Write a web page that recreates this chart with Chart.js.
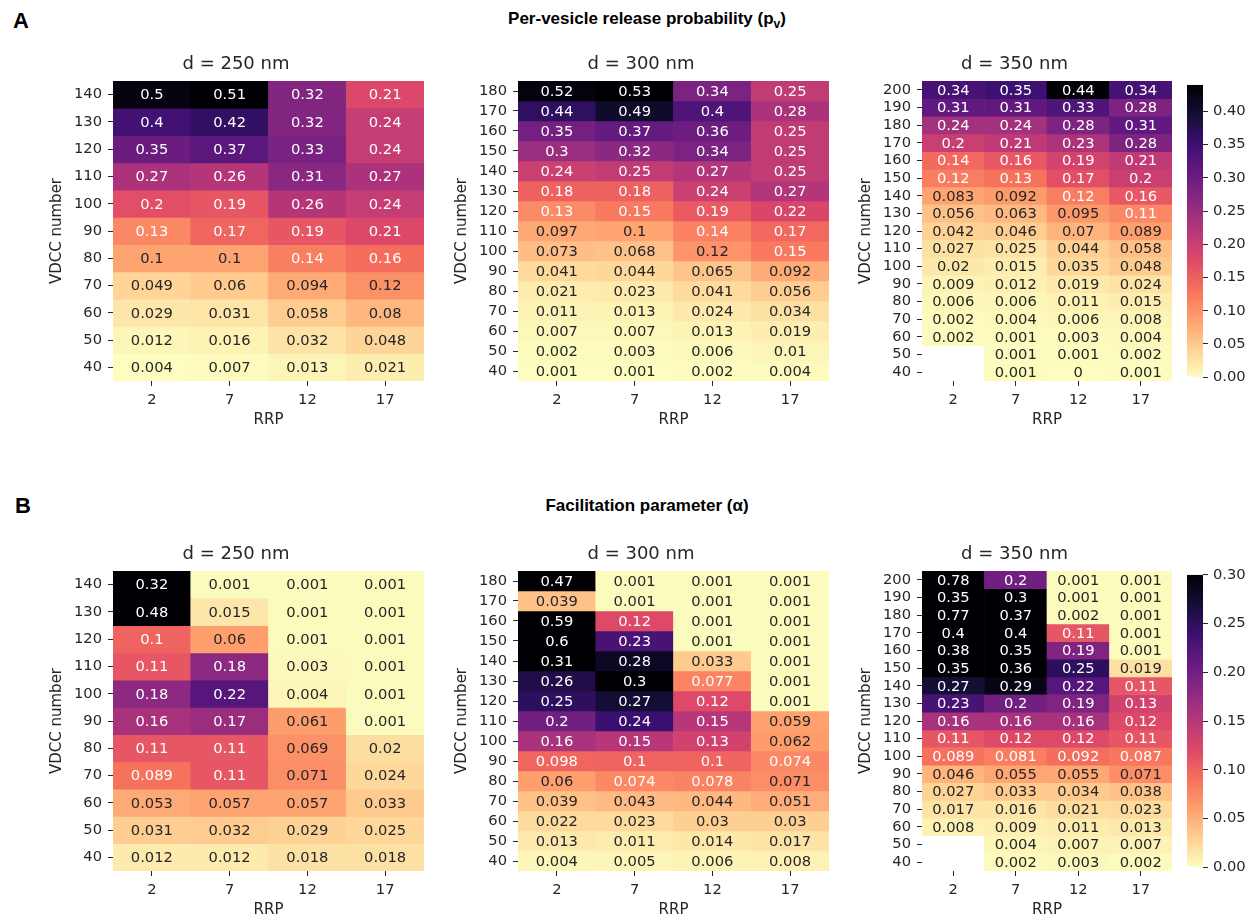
<!DOCTYPE html>
<html>
<head>
<meta charset="utf-8">
<script src="https://cdn.jsdelivr.net/npm/chart.js@4.4.0/dist/chart.umd.min.js"></script>
<style>
html,body{margin:0;padding:0;background:#fff;}
#fig{position:relative;width:1255px;height:920px;overflow:hidden;background:#fff;}
#fig canvas{position:absolute;}
.lbl{position:absolute;font-family:"Liberation Sans",Arial,sans-serif;font-weight:bold;color:#000;white-space:nowrap;}
.sup{position:absolute;left:347px;width:600px;text-align:center;font-family:"Liberation Sans",Arial,sans-serif;font-weight:bold;font-size:17px;line-height:20px;color:#000;white-space:nowrap;}
.sup sub{font-size:12px;vertical-align:-4px;line-height:0;}
</style>
</head>
<body>
<div id="fig">
  <div class="lbl" style="left:13px;top:8px;font-size:22px;line-height:26px;">A</div>
  <div class="lbl" style="left:15px;top:493px;font-size:22px;line-height:26px;">B</div>
  <div class="sup" style="top:9px;">Per-vesicle release probability (p<sub>v</sub>)</div>
  <div class="sup" style="top:496px;">Facilitation parameter (α)</div>
</div>
<script>
// ---------------- DATA ----------------
const rrp = ['2', '7', '12', '17'];
const vdcc250 = [140, 130, 120, 110, 100, 90, 80, 70, 60, 50, 40];
const vdcc300 = [180, 170, 160, 150, 140, 130, 120, 110, 100, 90, 80, 70, 60, 50, 40];
const vdcc350 = [200, 190, 180, 170, 160, 150, 140, 130, 120, 110, 100, 90, 80, 70, 60, 50, 40];

// Per-vesicle release probability (rows top to bottom, columns RRP 2,7,12,17)
const pv250 = [
  [0.5, 0.51, 0.32, 0.21],
  [0.4, 0.42, 0.32, 0.24],
  [0.35, 0.37, 0.33, 0.24],
  [0.27, 0.26, 0.31, 0.27],
  [0.2, 0.19, 0.26, 0.24],
  [0.13, 0.17, 0.19, 0.21],
  [0.1, 0.1, 0.14, 0.16],
  [0.049, 0.06, 0.094, 0.12],
  [0.029, 0.031, 0.058, 0.08],
  [0.012, 0.016, 0.032, 0.048],
  [0.004, 0.007, 0.013, 0.021]
];
const pv300 = [
  [0.52, 0.53, 0.34, 0.25],
  [0.44, 0.49, 0.4, 0.28],
  [0.35, 0.37, 0.36, 0.25],
  [0.3, 0.32, 0.34, 0.25],
  [0.24, 0.25, 0.27, 0.25],
  [0.18, 0.18, 0.24, 0.27],
  [0.13, 0.15, 0.19, 0.22],
  [0.097, 0.1, 0.14, 0.17],
  [0.073, 0.068, 0.12, 0.15],
  [0.041, 0.044, 0.065, 0.092],
  [0.021, 0.023, 0.041, 0.056],
  [0.011, 0.013, 0.024, 0.034],
  [0.007, 0.007, 0.013, 0.019],
  [0.002, 0.003, 0.006, 0.01],
  [0.001, 0.001, 0.002, 0.004]
];
const pv350 = [
  [0.34, 0.35, 0.44, 0.34],
  [0.31, 0.31, 0.33, 0.28],
  [0.24, 0.24, 0.28, 0.31],
  [0.2, 0.21, 0.23, 0.28],
  [0.14, 0.16, 0.19, 0.21],
  [0.12, 0.13, 0.17, 0.2],
  [0.083, 0.092, 0.12, 0.16],
  [0.056, 0.063, 0.095, 0.11],
  [0.042, 0.046, 0.07, 0.089],
  [0.027, 0.025, 0.044, 0.058],
  [0.02, 0.015, 0.035, 0.048],
  [0.009, 0.012, 0.019, 0.024],
  [0.006, 0.006, 0.011, 0.015],
  [0.002, 0.004, 0.006, 0.008],
  [0.002, 0.001, 0.003, 0.004],
  [null, 0.001, 0.001, 0.002],
  [null, 0.001, 0, 0.001]
];

// Facilitation parameter
const a250 = [
  [0.32, 0.001, 0.001, 0.001],
  [0.48, 0.015, 0.001, 0.001],
  [0.1, 0.06, 0.001, 0.001],
  [0.11, 0.18, 0.003, 0.001],
  [0.18, 0.22, 0.004, 0.001],
  [0.16, 0.17, 0.061, 0.001],
  [0.11, 0.11, 0.069, 0.02],
  [0.089, 0.11, 0.071, 0.024],
  [0.053, 0.057, 0.057, 0.033],
  [0.031, 0.032, 0.029, 0.025],
  [0.012, 0.012, 0.018, 0.018]
];
const a300 = [
  [0.47, 0.001, 0.001, 0.001],
  [0.039, 0.001, 0.001, 0.001],
  [0.59, 0.12, 0.001, 0.001],
  [0.6, 0.23, 0.001, 0.001],
  [0.31, 0.28, 0.033, 0.001],
  [0.26, 0.3, 0.077, 0.001],
  [0.25, 0.27, 0.12, 0.001],
  [0.2, 0.24, 0.15, 0.059],
  [0.16, 0.15, 0.13, 0.062],
  [0.098, 0.1, 0.1, 0.074],
  [0.06, 0.074, 0.078, 0.071],
  [0.039, 0.043, 0.044, 0.051],
  [0.022, 0.023, 0.03, 0.03],
  [0.013, 0.011, 0.014, 0.017],
  [0.004, 0.005, 0.006, 0.008]
];
const a350 = [
  [0.78, 0.2, 0.001, 0.001],
  [0.35, 0.3, 0.001, 0.001],
  [0.77, 0.37, 0.002, 0.001],
  [0.4, 0.4, 0.11, 0.001],
  [0.38, 0.35, 0.19, 0.001],
  [0.35, 0.36, 0.25, 0.019],
  [0.27, 0.29, 0.22, 0.11],
  [0.23, 0.2, 0.19, 0.13],
  [0.16, 0.16, 0.16, 0.12],
  [0.11, 0.12, 0.12, 0.11],
  [0.089, 0.081, 0.092, 0.087],
  [0.046, 0.055, 0.055, 0.071],
  [0.027, 0.033, 0.034, 0.038],
  [0.017, 0.016, 0.021, 0.023],
  [0.008, 0.009, 0.011, 0.013],
  [null, 0.004, 0.007, 0.007],
  [null, 0.002, 0.003, 0.002]
];

const cbTicksA = [0, 0.05, 0.10, 0.15, 0.20, 0.25, 0.30, 0.35, 0.40];
const cbTicksB = [0, 0.05, 0.10, 0.15, 0.20, 0.25, 0.30];
const vmaxB = 0.3;

// ---------------- STYLE ----------------
const FAMILY = "'DejaVu Sans', sans-serif";
const TXT = '#262626';
const MAGMA = ['#000004', '#140e36', '#3b0f70', '#641a80', '#8c2981', '#b73779',
               '#de4968', '#f7705c', '#fe9f6d', '#fecf92', '#fcfdbf'];
const MAGMA_RGB = MAGMA.map(h => [1, 3, 5].map(i => parseInt(h.substr(i, 2), 16)));

function magmaRGB(t) {
  t = Math.max(0, Math.min(1, t));
  const p = t * (MAGMA_RGB.length - 1);
  const i = Math.min(Math.floor(p), MAGMA_RGB.length - 2);
  const f = p - i;
  return MAGMA_RGB[i].map((v, k) => v + (MAGMA_RGB[i + 1][k] - v) * f);
}
// reversed magma (light for low, dark for high)
function magmaR(t) { return magmaRGB(1 - t); }
function rgbStr(c) { return 'rgb(' + c.map(v => Math.round(v)).join(',') + ')'; }
function textColor(c) {
  const lin = c.map(v => { v /= 255; return v <= 0.03928 ? v / 12.92 : Math.pow((v + 0.055) / 1.055, 2.4); });
  const lum = 0.2126 * lin[0] + 0.7152 * lin[1] + 0.0722 * lin[2];
  return lum > 0.40 ? TXT : '#ffffff';
}

const Y_AXIS_W = 65, TITLE_H = 27, X_AXIS_H = 48, CHART_H = 300;
const colLefts = [113, 518, 922];
const colWidths = [311, 311, 250];
const rowTops = [81, 571];

function makeCanvas(left, top, w, h) {
  const c = document.createElement('canvas');
  c.width = w; c.height = h;
  c.style.left = left + 'px'; c.style.top = top + 'px';
  c.style.width = w + 'px'; c.style.height = h + 'px';
  document.getElementById('fig').appendChild(c);
  return c;
}

function annotPlugin(matrix, vmin, vmax) {
  return {
    id: 'annot',
    afterDatasetsDraw(chart) {
      const {ctx} = chart;
      const xs = chart.scales.x, ys = chart.scales.y;
      const n = matrix.length;
      ctx.save();
      ctx.font = "14.7px 'DejaVu Sans', sans-serif";
      ctx.textAlign = 'center';
      ctx.textBaseline = 'middle';
      matrix.forEach((row, r) => row.forEach((v, c) => {
        if (v === null) return;
        const col = magmaR((v - vmin) / (vmax - vmin));
        ctx.fillStyle = textColor(col);
        ctx.fillText(String(v), xs.getPixelForValue(c), ys.getPixelForValue(n - 1 - r) + 1);
      }));
      ctx.restore();
    }
  };
}

function heatmap(colIdx, rowIdx, title, rows, matrix, vmin, vmax) {
  const chartLeft = colLefts[colIdx], chartW = colWidths[colIdx], chartTop = rowTops[rowIdx];
  const cv = makeCanvas(chartLeft - Y_AXIS_W, chartTop - TITLE_H, Y_AXIS_W + chartW, TITLE_H + CHART_H + X_AXIS_H);
  const n = rows.length;
  const rowsBottomUp = rows.slice().reverse();
  const datasets = matrix.map((row, r) => {
    const yv = n - 1 - r;
    return {
      data: row.map(v => v === null ? null : [yv - 0.5, yv + 0.5]),
      backgroundColor: row.map(v => v === null ? 'rgba(0,0,0,0)' : rgbStr(magmaR((v - vmin) / (vmax - vmin)))),
      borderWidth: 0,
      barPercentage: 1,
      categoryPercentage: 1,
      grouped: false
    };
  });
  const tickFont = {family: FAMILY, size: 14.7};
  new Chart(cv, {
    type: 'bar',
    data: {labels: rrp, datasets},
    options: {
      responsive: false,
      animation: false,
      events: [],
      layout: {padding: 0},
      plugins: {
        legend: {display: false},
        tooltip: {enabled: false},
        title: {display: true, text: title, color: TXT,
                font: {family: FAMILY, size: 18, weight: 'normal'},
                padding: {top: 0, bottom: 5.4}}
      },
      scales: {
        x: {
          type: 'category', offset: true,
          grid: {display: true, drawOnChartArea: false, offset: false, drawTicks: true,
                 tickLength: 5, tickColor: TXT, tickWidth: 1},
          border: {display: false},
          ticks: {font: tickFont, color: TXT, padding: 5, maxRotation: 0, autoSkip: false},
          title: {display: true, text: 'RRP', color: TXT, font: {family: FAMILY, size: 15}, padding: 0},
          afterFit: s => { s.height = X_AXIS_H; }
        },
        y: {
          type: 'linear', min: -0.5, max: n - 0.5,
          afterBuildTicks: s => { s.ticks = rowsBottomUp.map((_, i) => ({value: i})); },
          ticks: {font: tickFont, color: TXT, padding: 6, autoSkip: false,
                  callback: v => String(rowsBottomUp[v])},
          grid: {display: true, drawOnChartArea: false, drawTicks: true,
                 tickLength: 5, tickColor: TXT, tickWidth: 1},
          border: {display: false},
          title: {display: true, text: 'VDCC number', color: TXT, font: {family: FAMILY, size: 15}, padding: 0},
          afterFit: s => { s.width = Y_AXIS_W; }
        }
      }
    },
    plugins: [annotPlugin(matrix, vmin, vmax)]
  });
}

function colorbar(rowIdx, vmax, ticks) {
  const chartTop = rowTops[rowIdx];
  const cv = makeCanvas(1187, chartTop - 10, 66, CHART_H + 20);
  new Chart(cv, {
    type: 'bar',
    data: {labels: [''], datasets: [{
      data: [[0, vmax]],
      borderWidth: 0, barPercentage: 1, categoryPercentage: 1, inflateAmount: 0,
      backgroundColor: ctx => {
        const chart = ctx.chart;
        if (!chart.chartArea) return 'rgba(0,0,0,0)';
        const ys = chart.scales.y;
        const g = chart.ctx.createLinearGradient(0, ys.getPixelForValue(0), 0, ys.getPixelForValue(vmax));
        for (let i = 0; i <= 40; i++) g.addColorStop(i / 40, rgbStr(magmaR(i / 40)));
        return g;
      }
    }]},
    options: {
      responsive: false, animation: false, events: [],
      layout: {padding: {top: 10, bottom: 10, left: 0, right: 0}},
      plugins: {legend: {display: false}, tooltip: {enabled: false}, title: {display: false}},
      scales: {
        x: {display: false},
        y: {
          position: 'right', min: 0, max: vmax,
          afterBuildTicks: s => { s.ticks = ticks.map(v => ({value: v})); },
          ticks: {font: {family: FAMILY, size: 14.7}, color: TXT, padding: 5, autoSkip: false,
                  callback: v => Number(v).toFixed(2)},
          grid: {display: true, drawOnChartArea: false, drawTicks: true, tickLength: 5, tickColor: TXT},
          border: {display: false},
          afterFit: s => { s.width = 50; }
        }
      }
    }
  });
}

function range(m) {
  const vals = m.flat().filter(v => v !== null);
  return [Math.min(...vals), Math.max(...vals)];
}

const r250 = range(pv250), r300 = range(pv300), r350 = range(pv350);
heatmap(0, 0, 'd = 250 nm', vdcc250, pv250, r250[0], r250[1]);
heatmap(1, 0, 'd = 300 nm', vdcc300, pv300, r300[0], r300[1]);
heatmap(2, 0, 'd = 350 nm', vdcc350, pv350, r350[0], r350[1]);
colorbar(0, r350[1], cbTicksA);

heatmap(0, 1, 'd = 250 nm', vdcc250, a250, 0, vmaxB);
heatmap(1, 1, 'd = 300 nm', vdcc300, a300, 0, vmaxB);
heatmap(2, 1, 'd = 350 nm', vdcc350, a350, 0, vmaxB);
colorbar(1, vmaxB, cbTicksB);
</script>
</body>
</html>
